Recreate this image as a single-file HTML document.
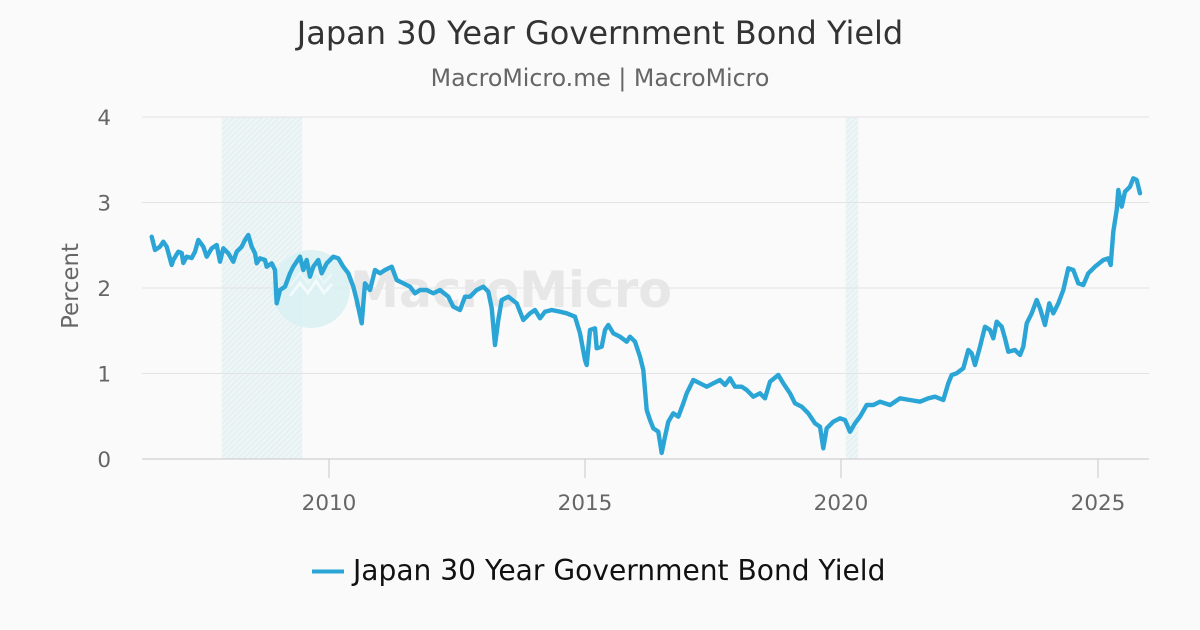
<!DOCTYPE html>
<html>
<head>
<meta charset="utf-8">
<style>
html,body{margin:0;padding:0;background:#fafafa;}
svg{display:block;font-family:"DejaVu Sans","Liberation Sans",sans-serif;}
</style>
</head>
<body>
<svg width="1200" height="630" viewBox="0 0 1200 630" xmlns="http://www.w3.org/2000/svg">
<defs>
<pattern id="hatch" width="4" height="4" patternUnits="userSpaceOnUse" patternTransform="rotate(45)">
<rect width="4" height="4" fill="#edf5f6"/>
<line x1="0" y1="0" x2="0" y2="4" stroke="#dcecee" stroke-width="1.5"/>
</pattern>
</defs>
<rect width="1200" height="630" fill="#fafafa"/>

<!-- recession bands -->
<rect x="221.7" y="117" width="80.6" height="342" fill="url(#hatch)"/>
<rect x="845.7" y="117" width="12.6" height="342" fill="url(#hatch)"/>

<!-- gridlines -->
<g stroke="#e3e3e3" stroke-width="1">
<line x1="142" y1="117" x2="1149" y2="117"/>
<line x1="142" y1="202.5" x2="1149" y2="202.5"/>
<line x1="142" y1="288" x2="1149" y2="288"/>
<line x1="142" y1="373.5" x2="1149" y2="373.5"/>
</g>
<line x1="142" y1="459" x2="1149" y2="459" stroke="#d0d0d0" stroke-width="1.2"/>
<g stroke="#d0d0d0" stroke-width="1.2">
<line x1="329" y1="459" x2="329" y2="478"/>
<line x1="585" y1="459" x2="585" y2="478"/>
<line x1="841" y1="459" x2="841" y2="478"/>
<line x1="1098" y1="459" x2="1098" y2="478"/>
</g>

<!-- watermark -->
<circle cx="311" cy="289" r="39" fill="#d8f0f2" opacity="0.85"/>
<polyline points="290,296 300,283 308,293 316,281 324,293 332,284" fill="none" stroke="#f2fafb" stroke-width="3"/>
<polyline points="290,286 300,273 308,283 316,271 324,283 332,274" fill="none" stroke="#f2fafb" stroke-width="2" opacity="0.7"/>
<text x="350" y="307" font-size="50" font-weight="bold" fill="#e7e7e7" textLength="322" lengthAdjust="spacingAndGlyphs">MacroMicro</text>

<!-- series -->
<polyline fill="none" stroke="#2aa5d6" stroke-width="4.4" stroke-linejoin="round" stroke-linecap="round" points="
151.7,236.7 155,250 160,246.7 163.3,241.7 166.7,246.7 171.7,265 173.3,260 178.3,251.7 181.7,253 183.3,263 186.7,256.7 191.7,258 195,251.7 198.3,240 203.3,246.7 206.7,256.7 211.7,248.3 216.7,245 220,261.7 223.3,248.3 228.3,253.3 233.3,261.7 236.7,251.7 241.7,246.7 245,240 248.3,235 251.7,246.7 255,253.3 256.7,263.3 260,258.3 265,260 266.7,266.7 271.7,263.3 275,270 276.7,303.3 280,290 285,286.7 290,273.3 293.3,266.7 300,256.7 303.3,270 306.7,260 310,276.7 313.3,266.7 318.3,260 321.7,273.3 326.7,263.3 333.3,256.7 338.3,258.3 343.3,266.7 348.3,273.3 353.3,286.7 356.7,300 361.7,323.3 365,283.3 370,290 375,270 380,273.3 385,270 391.7,266.7 396.7,280 403.3,283.3 410,286.7 415,293.3 420,290 426.7,290 433.3,293.3 440,290 448.3,296.7 453.3,306.7 460,310 465,296.7 470,296.7 476.7,290 483.3,286.7 488.3,291.7 491.7,308 495,345 498.3,320 501.7,300 508.3,296.7 516.7,303.3 523.3,320 530,313.3 535,310 540,318.3 545,311.7 551.7,310 560,311.7 566.7,313.3 575,316.7 580,333.3 585,360 586.7,365 590,330 595,328.3 596.7,348.3 601.7,346.7 605,330 608.3,325 613.3,333.3 620,336.7 626.7,341.7 630,336.7 635,341.7 640,356.7 643.3,370 646.7,410 650,420 653.3,428.3 658.3,431.7 661.7,453 665,436.7 668.3,421.7 673.3,413.3 678.3,416.7 683.3,403.3 686.7,393.3 693.3,380 700,383.3 706.7,386.7 713.3,383.3 720,380 725,385 730,378.3 735,386.7 741.7,386.7 746.7,390 753.3,396.7 760,393.3 765,398.3 770,381.7 778.3,375 783.3,383.3 790,393.3 795,403.3 801.7,406.7 808.3,413.3 815,423.3 820,426.7 823.3,448.3 826.7,428.3 833.3,421.7 840,418.3 845,420 850,431.7 855,423.3 860,416.7 866.7,405 873.3,405 880,401.7 890,405 900,398.3 910,400 920,401.7 928.3,398.3 935,396.7 943.3,400 948.3,383.3 951.7,375 956.7,373.3 963.3,368.3 968.3,350 971.7,353.3 975,365 980,346.7 985,326.7 990,330 993.3,338.3 996.7,321.7 1001.7,326.7 1005,338.3 1008.3,351.7 1015,350 1020,355 1023.3,346.7 1026.7,323.3 1031.7,313.3 1036.7,300 1040,308.3 1045,325 1049.3,303.3 1053.3,313.3 1058.3,303.3 1063.3,290 1068.3,268.3 1073.3,270 1078.3,283.3 1083.3,285 1088.3,273.3 1095,266.7 1103.3,260 1108.3,258.3 1110.7,265 1113.3,231.7 1116.7,210 1118.3,190 1121.7,206.7 1125,191.7 1130,186.7 1133.3,178.3 1136.7,180 1140,193.3"/>

<!-- titles -->
<text x="600" y="44" font-size="32" fill="#333333" text-anchor="middle">Japan 30 Year Government Bond Yield</text>
<text x="600" y="86" font-size="23.7" fill="#666666" text-anchor="middle">MacroMicro.me | MacroMicro</text>

<!-- y axis labels -->
<g font-size="21.5" fill="#666666" text-anchor="end">
<text x="111" y="125">4</text>
<text x="111" y="210.5">3</text>
<text x="111" y="296">2</text>
<text x="111" y="381.5">1</text>
<text x="111" y="467">0</text>
</g>
<text transform="translate(78,286) rotate(-90)" font-size="22.8" fill="#666666" text-anchor="middle">Percent</text>

<!-- x axis labels -->
<g font-size="21.5" fill="#666666" text-anchor="middle">
<text x="329" y="510">2010</text>
<text x="585" y="510">2015</text>
<text x="841" y="510">2020</text>
<text x="1098" y="510">2025</text>
</g>

<!-- legend -->
<line x1="312" y1="571.5" x2="344" y2="571.5" stroke="#2aa5d6" stroke-width="4"/>
<text x="353" y="580" font-size="28.1" fill="#111111">Japan 30 Year Government Bond Yield</text>
</svg>
</body>
</html>
